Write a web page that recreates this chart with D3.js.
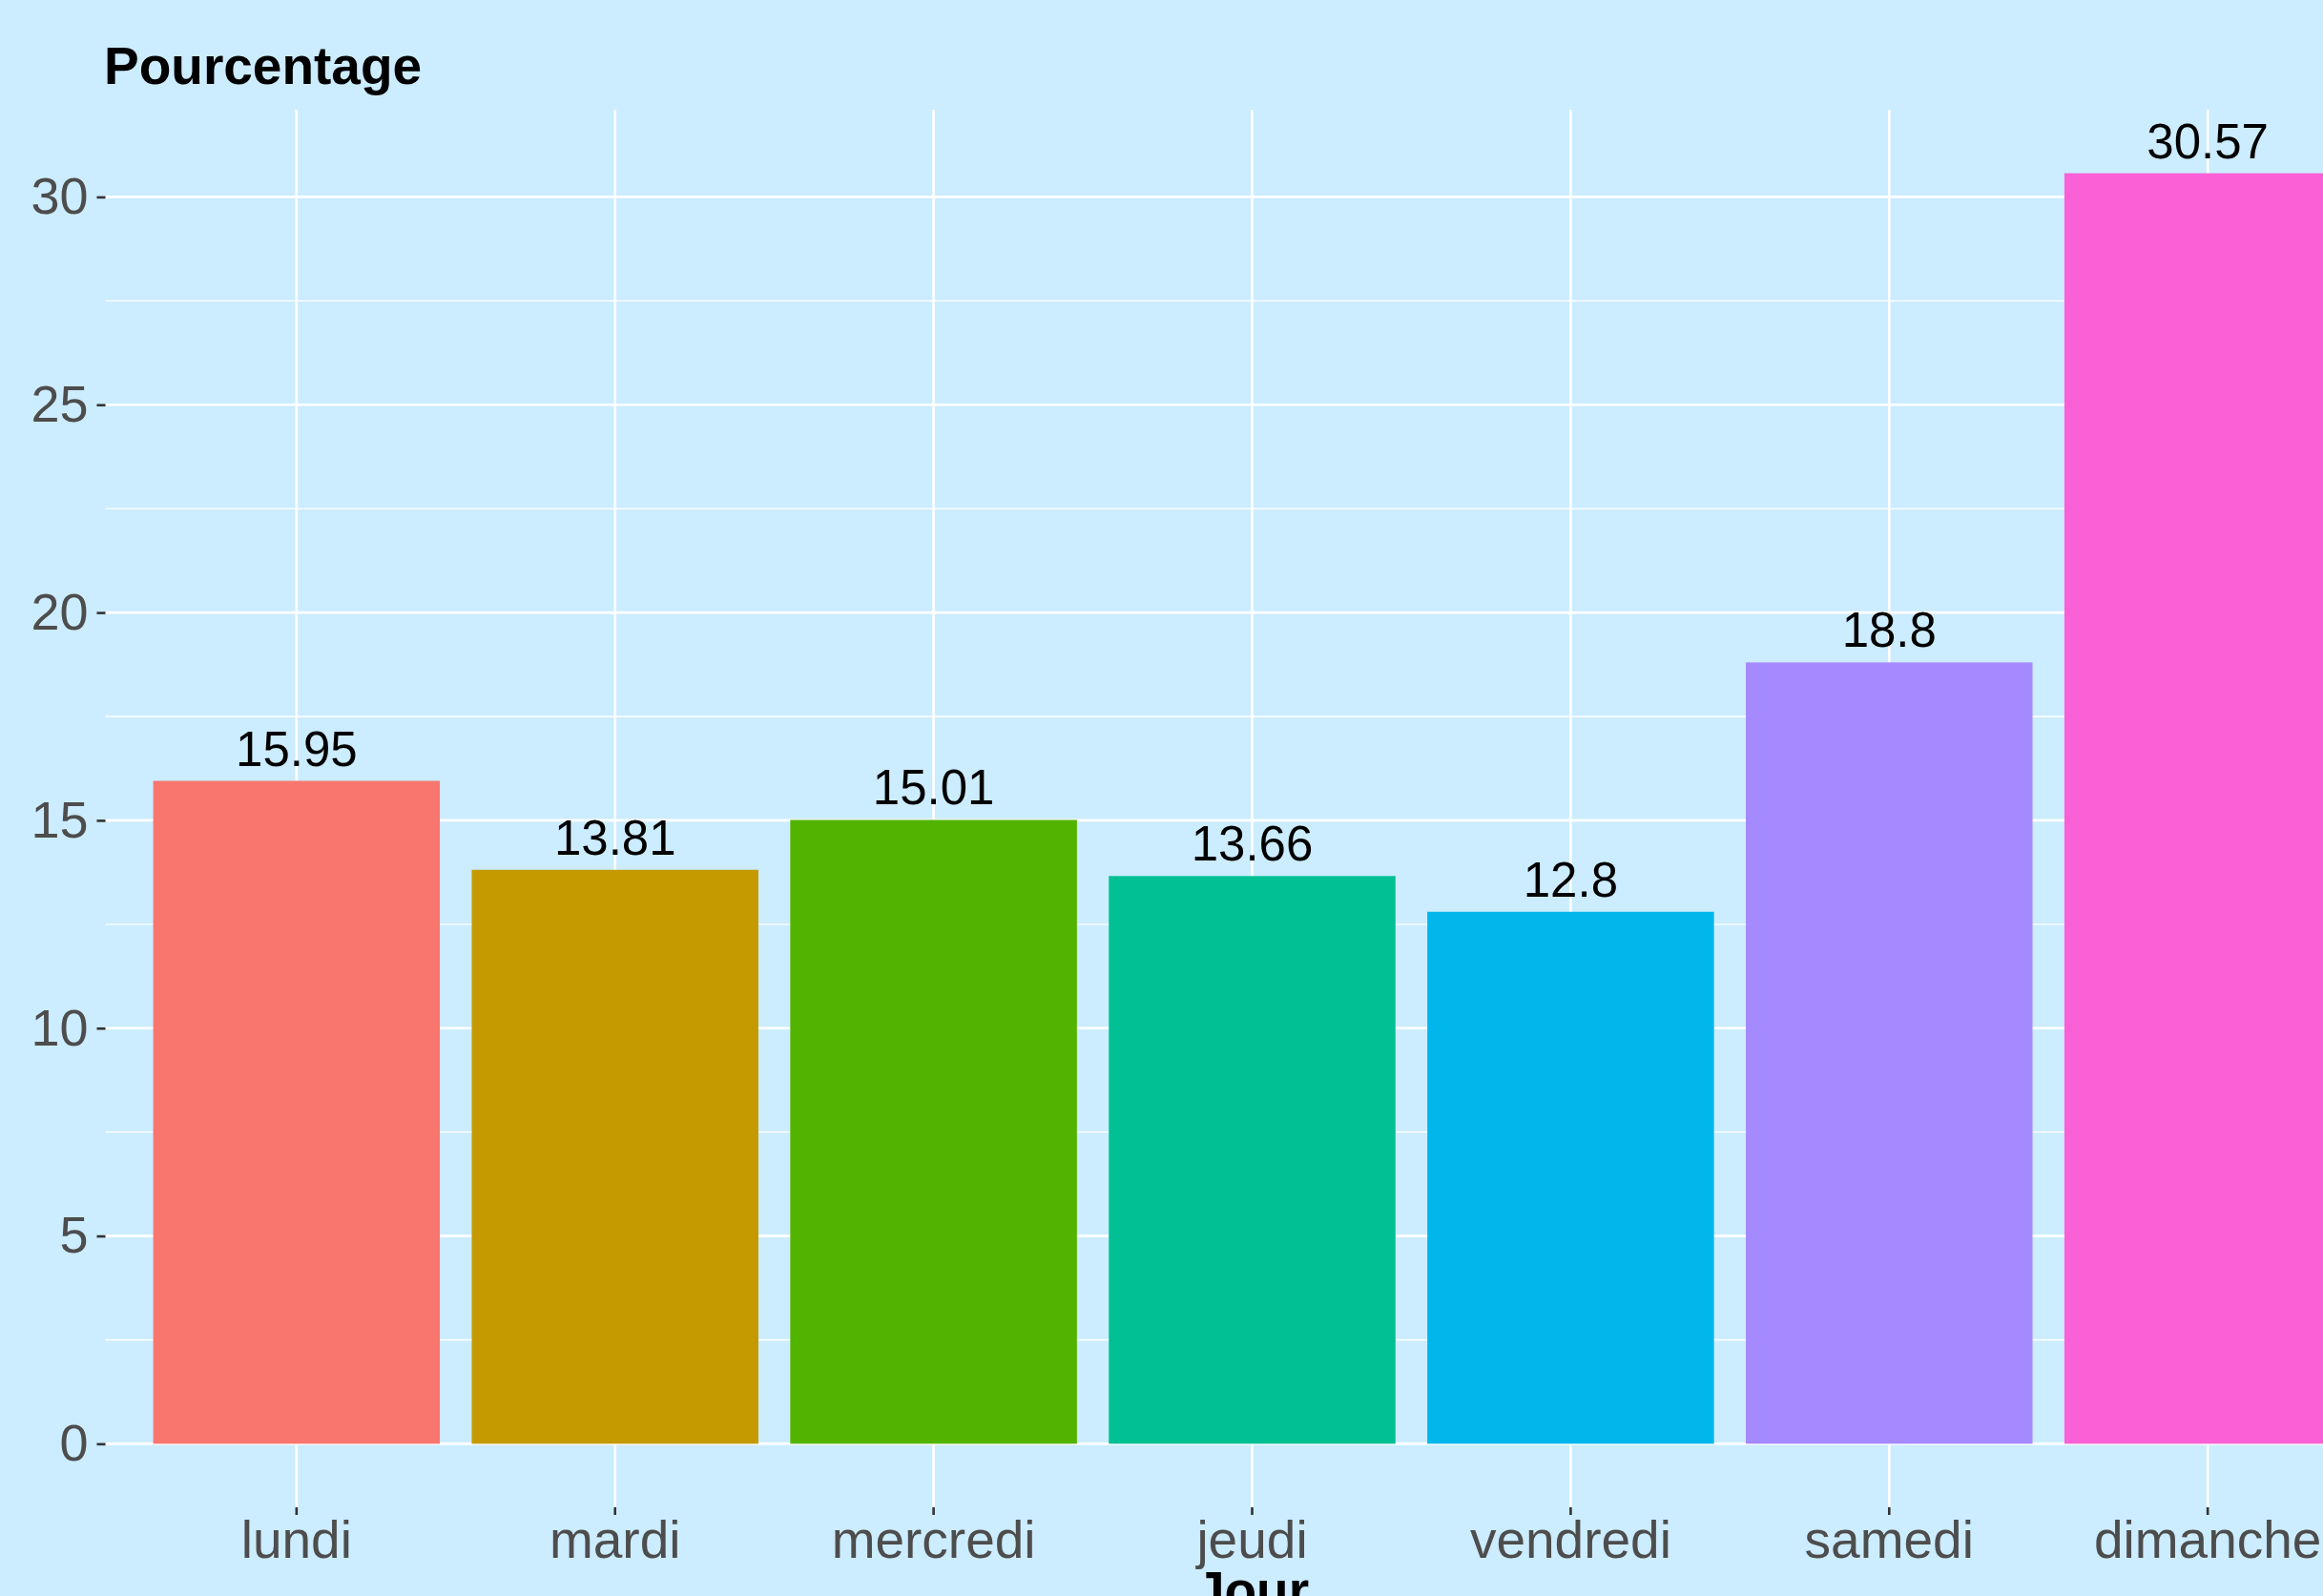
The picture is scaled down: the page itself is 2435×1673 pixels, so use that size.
<!DOCTYPE html>
<html>
<head>
<meta charset="utf-8">
<script src="https://cdn.jsdelivr.net/npm/d3@7"></script>
<style>
  html, body { margin: 0; padding: 0; background: #CCECFF; overflow: hidden; }
  svg { display: block; font-family: "Liberation Sans", Arial, sans-serif; }
</style>
</head>
<body>
<script>
const days = ["lundi", "mardi", "mercredi", "jeudi", "vendredi", "samedi", "dimanche"];
const values = [15.95, 13.81, 15.01, 13.66, 12.8, 18.8, 30.57];
const colors = ["#F8766D", "#C49A00", "#53B400", "#00C094", "#00B6EB", "#A58AFF", "#FB61D7"];
const yTicks = [0, 5, 10, 15, 20, 25, 30];
const yMinor = [2.5, 7.5, 12.5, 17.5, 22.5, 27.5];
const yTitle = "Pourcentage";
const xTitle = "Jour";

const W = 2435, H = 1673;
const panel = { left: 110.5, right: 2514.5, top: 115, bottom: 1580 };

const svg = d3.select("body").append("svg").attr("width", W).attr("height", H);
svg.append("rect").attr("width", W).attr("height", H).attr("fill", "#CCECFF");

const maxV = d3.max(values);
const padY = maxV * 0.05;
const y = d3.scaleLinear().domain([-padY, maxV + padY]).range([panel.bottom, panel.top]);
const x = d3.scaleBand().domain(days).range([panel.left, panel.right])
  .paddingInner(0.1).paddingOuter(0.15);

const g = svg.append("g");

// minor gridlines
g.selectAll(".minor").data(yMinor).enter().append("line")
  .attr("x1", panel.left).attr("x2", panel.right)
  .attr("y1", d => y(d)).attr("y2", d => y(d))
  .attr("stroke", "#FFFFFF").attr("stroke-width", 1.3);
// major gridlines
g.selectAll(".major").data(yTicks).enter().append("line")
  .attr("x1", panel.left).attr("x2", panel.right)
  .attr("y1", d => y(d)).attr("y2", d => y(d))
  .attr("stroke", "#FFFFFF").attr("stroke-width", 2.6);
g.selectAll(".vgrid").data(days).enter().append("line")
  .attr("x1", d => x(d) + x.bandwidth() / 2).attr("x2", d => x(d) + x.bandwidth() / 2)
  .attr("y1", panel.top).attr("y2", panel.bottom)
  .attr("stroke", "#FFFFFF").attr("stroke-width", 2.6);

// bars
g.selectAll(".bar").data(days).enter().append("rect")
  .attr("x", d => x(d))
  .attr("width", x.bandwidth())
  .attr("y", (d, i) => y(values[i]))
  .attr("height", (d, i) => y(0) - y(values[i]))
  .attr("fill", (d, i) => colors[i]);

// value labels
g.selectAll(".val").data(days).enter().append("text")
  .attr("x", d => x(d) + x.bandwidth() / 2)
  .attr("y", (d, i) => y(values[i]) - 16)
  .attr("text-anchor", "middle")
  .attr("font-size", 51)
  .attr("fill", "#000000")
  .text((d, i) => String(values[i]));

// y axis
const yAxis = d3.axisLeft(y).tickValues(yTicks).tickSize(9).tickPadding(9).tickFormat(d3.format("d"));
const ya = svg.append("g").attr("transform", `translate(${panel.left},0)`).call(yAxis);
ya.select(".domain").remove();
ya.selectAll(".tick line").attr("stroke", "#333333").attr("stroke-width", 2.6);
ya.selectAll(".tick text").attr("font-size", 54).attr("fill", "#4D4D4D")
  .attr("font-family", "Liberation Sans, Arial, sans-serif");

// x axis
const xAxis = d3.axisBottom(x).tickSize(8).tickPadding(6);
const xa = svg.append("g").attr("transform", `translate(0,${panel.bottom})`).call(xAxis);
xa.select(".domain").remove();
xa.selectAll(".tick line").attr("stroke", "#333333").attr("stroke-width", 2.6);
xa.selectAll(".tick text").attr("font-size", 55).attr("fill", "#4D4D4D")
  .attr("font-family", "Liberation Sans, Arial, sans-serif")
  .attr("dy", null).attr("y", 53);

// titles
svg.append("text").attr("x", 109).attr("y", 88)
  .attr("font-size", 55).attr("font-weight", "bold").attr("fill", "#000000")
  .text(yTitle);
svg.append("text").attr("x", (panel.left + panel.right) / 2).attr("y", 1686)
  .attr("text-anchor", "middle")
  .attr("font-size", 55).attr("font-weight", "bold").attr("fill", "#000000")
  .text(xTitle);
</script>
</body>
</html>
